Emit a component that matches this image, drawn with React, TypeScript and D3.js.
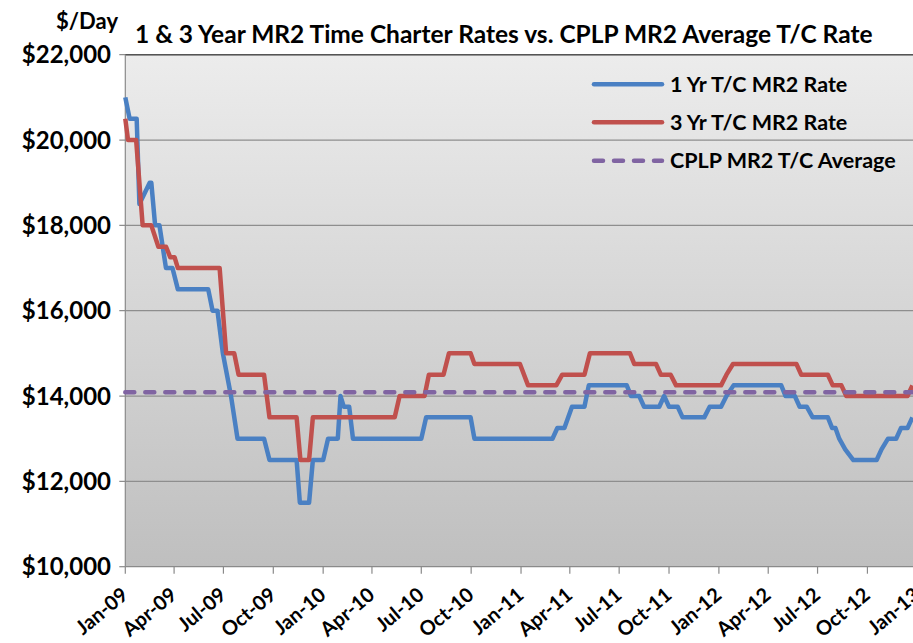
import React, { useEffect, useRef } from 'react';
import * as d3 from 'd3';

// 1 Yr T/C MR2 rate ($/day)
const oneYearRate: [string, number][] = [
  ['2009-01-01', 21000], ['2009-01-09', 20500], ['2009-01-22', 20500], ['2009-01-27', 18500],
  ['2009-02-15', 19000], ['2009-02-18', 19000], ['2009-02-25', 18000], ['2009-03-05', 18000],
  ['2009-03-17', 17000], ['2009-03-29', 17000], ['2009-04-08', 16500], ['2009-06-03', 16500],
  ['2009-06-11', 16000], ['2009-06-20', 16000], ['2009-06-30', 15000], ['2009-07-15', 14000],
  ['2009-07-27', 13000], ['2009-09-14', 13000], ['2009-09-24', 12500], ['2009-11-13', 12500],
  ['2009-11-19', 11500], ['2009-12-06', 11500], ['2009-12-13', 12500], ['2010-01-01', 12500],
  ['2010-01-10', 13000], ['2010-01-28', 13000], ['2010-02-02', 14000], ['2010-02-08', 13750],
  ['2010-02-18', 13750], ['2010-02-25', 13000], ['2010-07-01', 13000], ['2010-07-10', 13500],
  ['2010-09-30', 13500], ['2010-10-07', 13000], ['2011-02-28', 13000], ['2011-03-09', 13250],
  ['2011-03-22', 13250], ['2011-04-05', 13750], ['2011-04-28', 13750], ['2011-05-06', 14250],
  ['2011-07-15', 14250], ['2011-07-23', 14000], ['2011-08-07', 14000], ['2011-08-16', 13750],
  ['2011-09-13', 13750], ['2011-09-22', 14000], ['2011-10-01', 13750], ['2011-10-17', 13750],
  ['2011-10-26', 13500], ['2011-12-05', 13500], ['2011-12-15', 13750], ['2012-01-05', 13750],
  ['2012-01-15', 14000], ['2012-01-28', 14250], ['2012-04-25', 14250], ['2012-05-03', 14000],
  ['2012-05-20', 14000], ['2012-05-29', 13750], ['2012-06-11', 13750], ['2012-06-22', 13500],
  ['2012-07-20', 13500], ['2012-07-28', 13250], ['2012-08-03', 13250], ['2012-08-10', 13000],
  ['2012-08-21', 12750], ['2012-09-05', 12500], ['2012-10-18', 12500], ['2012-10-27', 12750],
  ['2012-11-08', 13000], ['2012-11-23', 13000], ['2012-12-02', 13250], ['2012-12-14', 13250],
  ['2012-12-23', 13500],
];

// 3 Yr T/C MR2 rate
const threeYearRate: [string, number][] = [
  ['2009-01-01', 20500], ['2009-01-06', 20000], ['2009-01-21', 20000], ['2009-02-02', 18000],
  ['2009-02-18', 18000], ['2009-03-03', 17500], ['2009-03-17', 17500], ['2009-03-25', 17250],
  ['2009-04-02', 17250], ['2009-04-08', 17000], ['2009-06-24', 17000], ['2009-07-06', 15000],
  ['2009-07-21', 15000], ['2009-07-29', 14500], ['2009-09-14', 14500], ['2009-09-24', 13500],
  ['2009-11-13', 13500], ['2009-11-20', 12500], ['2009-12-06', 12500], ['2009-12-13', 13500],
  ['2010-05-13', 13500], ['2010-05-22', 14000], ['2010-07-07', 14000], ['2010-07-15', 14500],
  ['2010-08-11', 14500], ['2010-08-21', 15000], ['2010-09-30', 15000], ['2010-10-07', 14750],
  ['2010-12-30', 14750], ['2011-01-14', 14250], ['2011-03-07', 14250], ['2011-03-18', 14500],
  ['2011-04-28', 14500], ['2011-05-08', 15000], ['2011-07-21', 15000], ['2011-07-29', 14750],
  ['2011-09-07', 14750], ['2011-09-16', 14500], ['2011-10-04', 14500], ['2011-10-14', 14250],
  ['2012-01-05', 14250], ['2012-01-15', 14500], ['2012-01-27', 14750], ['2012-05-23', 14750],
  ['2012-06-01', 14500], ['2012-07-20', 14500], ['2012-07-29', 14250], ['2012-08-14', 14250],
  ['2012-08-23', 14000], ['2012-12-14', 14000], ['2012-12-23', 14250],
];

const cplpAverage = 14090;
const yTicks = [10000, 12000, 14000, 16000, 18000, 20000, 22000];
const xTickStart = '2009-01-01';
const xTickEnd = '2013-01-01';

const seriesNames = ['1 Yr T/C MR2 Rate', '3 Yr T/C MR2 Rate', 'CPLP MR2 T/C Average'];
const title = '1 & 3 Year MR2 Time Charter Rates vs. CPLP MR2 Average T/C Rate';

const FONT = 'Lato, "Open Sans", sans-serif';

const App = () => {
  const svgRef = useRef<SVGSVGElement>(null);

  useEffect(() => {
    if (!svgRef.current) return;
    const svg = d3.select(svgRef.current);
    svg.selectAll('*').remove();

    const width = 913;
    const height = 643;
    const left = 125.3;
    const top = 54.7;
    const bottom = 566.7;

    const parse = d3.timeParse('%Y-%m-%d');
    const t0 = parse(xTickStart)!;
    const t1 = parse(xTickEnd)!;

    const xScale = d3.scaleTime().domain([t0, t1]).range([left, 917.3]);
    const yScale = d3.scaleLinear().domain([10000, 22000]).range([bottom, top]);

    const defs = svg.append('defs');
    const grad = defs.append('linearGradient')
      .attr('id', 'plotbg').attr('x1', 0).attr('y1', 0).attr('x2', 0).attr('y2', 1);
    grad.append('stop').attr('offset', 0).attr('stop-color', '#ececec');
    grad.append('stop').attr('offset', 1).attr('stop-color', '#bfbfbf');

    svg.append('rect')
      .attr('x', left).attr('y', top)
      .attr('width', width - left).attr('height', bottom - top)
      .attr('fill', 'url(#plotbg)');

    // gridlines
    svg.append('g').selectAll('line')
      .data(yTicks.slice(1))
      .join('line')
      .attr('x1', left - 6).attr('x2', width)
      .attr('y1', d => yScale(d)).attr('y2', d => yScale(d))
      .attr('stroke', '#8e8e8e').attr('stroke-width', 1.2);

    // top border
    svg.append('line')
      .attr('x1', left).attr('x2', width)
      .attr('y1', top).attr('y2', top)
      .attr('stroke', '#555').attr('stroke-width', 1.6);

    // y axis
    svg.append('line')
      .attr('x1', left).attr('x2', left).attr('y1', top).attr('y2', bottom)
      .attr('stroke', '#8a8a8a').attr('stroke-width', 1.2);
    svg.append('line')
      .attr('x1', left - 6).attr('x2', left).attr('y1', bottom).attr('y2', bottom)
      .attr('stroke', '#8a8a8a').attr('stroke-width', 1.2);

    svg.append('g').selectAll('text')
      .data(yTicks)
      .join('text')
      .attr('x', 111).attr('y', d => yScale(d) + 8.5)
      .attr('text-anchor', 'end')
      .attr('font-family', FONT).attr('font-weight', 700).attr('font-size', 24)
      .attr('fill', '#000')
      .text(d => '$' + d3.format(',')(d));

    // x axis
    svg.append('line')
      .attr('x1', left).attr('x2', width).attr('y1', bottom).attr('y2', bottom)
      .attr('stroke', '#8a8a8a').attr('stroke-width', 1.2);

    const xTicks = d3.timeMonth.every(3)!.range(t0, d3.timeDay.offset(t1, 1));
    svg.append('g').selectAll('line')
      .data(xTicks)
      .join('line')
      .attr('x1', d => xScale(d)).attr('x2', d => xScale(d))
      .attr('y1', bottom).attr('y2', bottom + 7)
      .attr('stroke', '#8a8a8a').attr('stroke-width', 1.2);

    const fmt = d3.timeFormat('%b-%y');
    svg.append('g').selectAll('text')
      .data(xTicks)
      .join('text')
      .attr('transform', d => `translate(${xScale(d) + 4}, 597) rotate(-40)`)
      .attr('text-anchor', 'end')
      .attr('font-family', FONT).attr('font-weight', 700).attr('font-size', 20)
      .attr('fill', '#000')
      .text(d => fmt(d));

    // series
    const line = d3.line<[string, number]>()
      .x(d => xScale(parse(d[0])!))
      .y(d => yScale(d[1]));

    svg.append('path')
      .datum(oneYearRate)
      .attr('d', line)
      .attr('fill', 'none').attr('stroke', '#4a80c3').attr('stroke-width', 4.5)
      .attr('stroke-linejoin', 'round');

    svg.append('path')
      .datum(threeYearRate)
      .attr('d', line)
      .attr('fill', 'none').attr('stroke', '#c0504d').attr('stroke-width', 4.5)
      .attr('stroke-linejoin', 'round');

    svg.append('line')
      .attr('x1', left).attr('x2', width)
      .attr('y1', yScale(cplpAverage)).attr('y2', yScale(cplpAverage))
      .attr('stroke', '#8064a2').attr('stroke-width', 4.5)
      .attr('stroke-linecap', 'round')
      .attr('stroke-dasharray', '9 11');

    // legend
    const legend = svg.append('g');
    const colors = ['#4a80c3', '#c0504d', '#8064a2'];
    const rowY = [84.3, 122.3, 160.7];
    seriesNames.forEach((name, i) => {
      legend.append('line')
        .attr('x1', 594).attr('x2', 662)
        .attr('y1', rowY[i]).attr('y2', rowY[i])
        .attr('stroke', colors[i]).attr('stroke-width', 4.5)
        .attr('stroke-linecap', 'round')
        .attr('stroke-dasharray', i === 2 ? '9 11' : null);
      legend.append('text')
        .attr('x', 670).attr('y', rowY[i] + 7.5)
        .attr('font-family', FONT).attr('font-weight', 700).attr('font-size', 21.5)
        .attr('fill', '#000')
        .text(name);
    });

    // titles
    svg.append('text')
      .attr('x', 135).attr('y', 43)
      .attr('font-family', FONT).attr('font-weight', 700).attr('font-size', 24.5)
      .attr('fill', '#000')
      .text(title);

    svg.append('text')
      .attr('x', 118).attr('y', 29)
      .attr('text-anchor', 'end')
      .attr('font-family', FONT).attr('font-weight', 700).attr('font-size', 22)
      .attr('fill', '#000')
      .text('$/Day');

    svg.attr('width', width).attr('height', height);
  }, []);

  return (
    <svg ref={svgRef} width={913} height={643}
      style={{ position: 'absolute', left: 0, top: 0, background: '#fff' }} />
  );
};

export default App;
